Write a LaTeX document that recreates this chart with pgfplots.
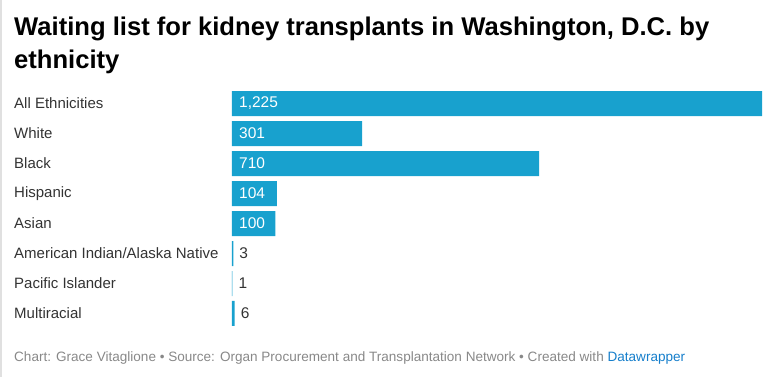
\documentclass[border=0pt]{standalone}
\usepackage{pgfplots}
\pgfplotsset{compat=1.18}
\usepackage{pgfplotstable}
\usepackage{fontspec}
\setmainfont{Liberation Sans}
\definecolor{barblue}{RGB}{24,161,206}
\definecolor{txt}{RGB}{51,51,51}
\definecolor{foot}{RGB}{136,136,136}
\definecolor{dwblue}{RGB}{21,126,203}
\pgfplotstableread{
i v
0 1225
1 301
2 710
3 104
4 100
5 3
6 1
7 6
}\data
\pgfplotstableread{
i x lab
0 0 1{,}225
1 0 301
2 0 710
3 0 104
4 0 100
}\inlab
\pgfplotstableread{
i x lab
5 3 3
6 1 1
7 6 6
}\outlab
\begin{document}
\begin{tikzpicture}
\path[use as bounding box] (0pt,0pt) rectangle (772pt,377pt);
\fill[black!12] (0pt,0pt) rectangle (1.5pt,377pt);
\node[anchor=base west, inner sep=0, font=\fontsize{25.6}{25.6}\selectfont\bfseries] at (14pt,341pt) {Waiting list for kidney transplants in Washington, D.C. by};
\node[anchor=base west, inner sep=0, font=\fontsize{25.6}{25.6}\selectfont\bfseries] at (14pt,308pt) {ethnicity};
\begin{axis}[at={(232pt,48.5pt)}, anchor=south west, scale only axis,
  width=530pt, height=240pt,
  xmin=0, xmax=1225, ymin=-0.5, ymax=7.5, y dir=reverse,
  axis line style={draw=none}, major tick length=0pt, clip=false,
  xtick=\empty,
  ytick={0,...,7},
  yticklabels={All Ethnicities,White,Black,Hispanic,Asian,American Indian/Alaska Native,Pacific Islander,Multiracial},
  yticklabel style={anchor=west, inner sep=0pt, xshift=-218pt, text=txt, font=\fontsize{15}{15}\selectfont},
  ]
\addplot[xbar, bar width=25pt, fill=barblue, draw=none, bar shift=0pt] table[x=v,y=i]{\data};
\addplot[draw=none, mark=none, nodes near coords, point meta=explicit symbolic,
  nodes near coords style={anchor=west, inner sep=0, xshift=7pt, text=white, font=\fontsize{15.5}{15.5}\selectfont}]
  table[x=x,y=i,meta=lab]{\inlab};
\addplot[draw=none, mark=none, nodes near coords, point meta=explicit symbolic,
  nodes near coords style={anchor=west, inner sep=0, xshift=6pt, text=txt, font=\fontsize{15.5}{15.5}\selectfont}]
  table[x=x,y=i,meta=lab]{\outlab};
\end{axis}
\node[anchor=base west, inner sep=0, font=\fontsize{13.55}{13.55}\selectfont, text=foot] at (14pt,15pt) {Chart: Grace Vitaglione • Source: Organ Procurement and Transplantation Network • Created with \textcolor{dwblue}{Datawrapper}};
\end{tikzpicture}
\end{document}
